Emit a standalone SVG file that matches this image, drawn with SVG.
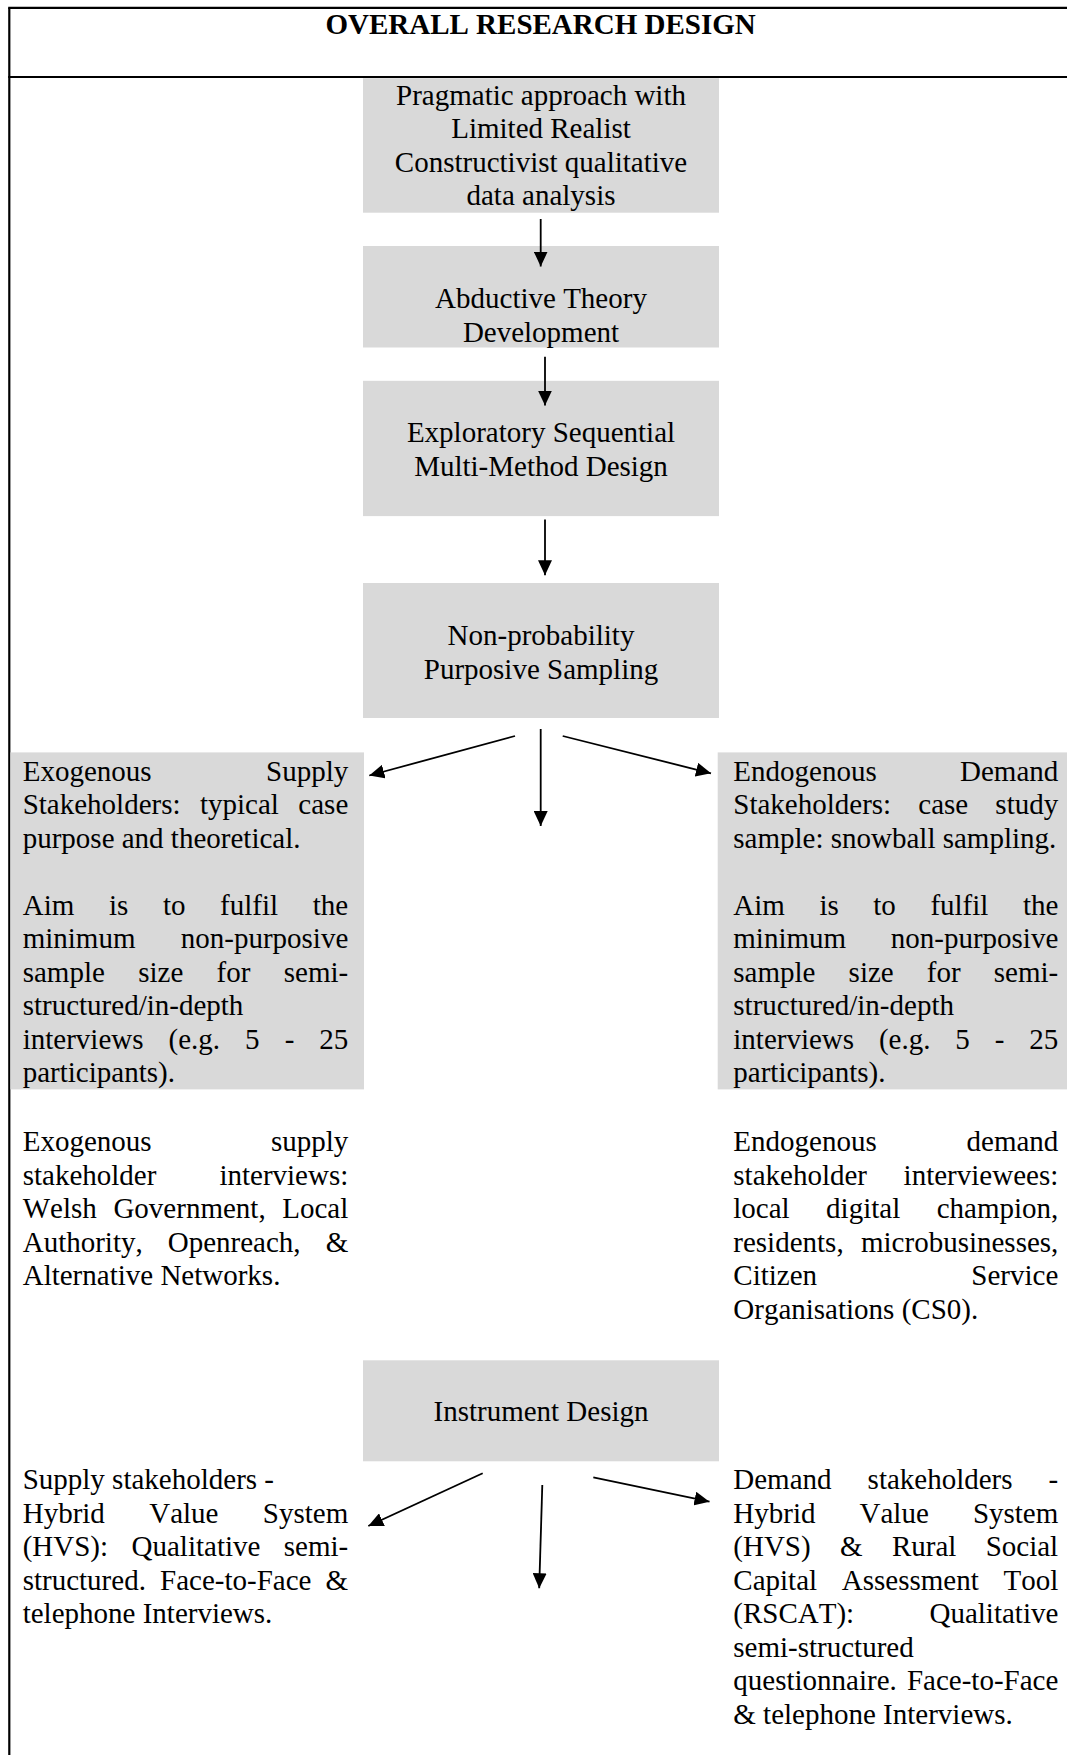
<svg xmlns="http://www.w3.org/2000/svg" width="1067" height="1755" viewBox="0 0 1067 1755">
  <style>
    text { font-family: "Liberation Serif", "Times New Roman", serif; font-size: 29px; fill: #000; font-kerning: none; }
    .title { font-weight: bold; text-anchor: middle; }
    .c { text-anchor: middle; }
    .box { fill: #d9d9d9; }
    .frame { stroke: #000; stroke-width: 2.2; fill: none; }
    .link { stroke: #000; stroke-width: 1.8; fill: none; marker-end: url(#ah); }
  </style>
  <defs>
    <marker id="ah" viewBox="0 0 15 14" refX="15" refY="7" markerWidth="15" markerHeight="14" markerUnits="userSpaceOnUse" orient="auto">
      <path d="M0,0 L15,7 L0,14 z" fill="#000"/>
    </marker>
  </defs>

  <rect width="1067" height="1755" fill="#fff"/>

  <!-- table frame and heading row -->
  <g id="frame">
    <line class="frame" x1="9.3" y1="7.8" x2="9.3" y2="1755"/>
    <line class="frame" x1="8.2" y1="7.8" x2="1067" y2="7.8"/>
    <line class="frame" x1="8.2" y1="77" x2="1067" y2="77"/>
    <text class="title" x="540.6" y="34">OVERALL RESEARCH DESIGN</text>
  </g>

  <g id="philosophy">
    <rect class="box" x="363" y="78.2" width="356" height="134.5"/>
    <text class="c" x="541" y="104.5">Pragmatic approach with</text>
    <text class="c" x="541" y="138">Limited Realist</text>
    <text class="c" x="541" y="171.5">Constructivist qualitative</text>
    <text class="c" x="541" y="205">data analysis</text>
  </g>

  <g id="theory">
    <rect class="box" x="363" y="246" width="356" height="101.5"/>
    <text class="c" x="541" y="308.3">Abductive Theory</text>
    <text class="c" x="541" y="341.8">Development</text>
  </g>

  <g id="method">
    <rect class="box" x="363" y="380.8" width="356" height="135.3"/>
    <text class="c" x="541" y="442">Exploratory Sequential</text>
    <text class="c" x="541" y="475.5">Multi-Method Design</text>
  </g>

  <g id="sampling">
    <rect class="box" x="363" y="583" width="356" height="135"/>
    <text class="c" x="541" y="645">Non-probability</text>
    <text class="c" x="541" y="678.5">Purposive Sampling</text>
  </g>

  <g id="supply-sampling">
    <rect class="box" x="10.4" y="752.4" width="353.6" height="337"/>
    <text x="22.7" y="780.7" word-spacing="107.3">Exogenous Supply</text>
    <text x="22.7" y="814.2" word-spacing="12.2">Stakeholders: typical case</text>
    <text x="22.7" y="847.7">purpose and theoretical.</text>
    <text x="22.7" y="914.7" word-spacing="27.4">Aim is to fulfil the</text>
    <text x="22.7" y="948.2" word-spacing="38">minimum non-purposive</text>
    <text x="22.7" y="981.7" word-spacing="26.1">sample size for semi-</text>
    <text x="22.7" y="1015.2">structured/in-depth</text>
    <text x="22.7" y="1048.7" word-spacing="17.8">interviews (e.g. 5 - 25</text>
    <text x="22.7" y="1082.2">participants).</text>
  </g>

  <g id="demand-sampling">
    <rect class="box" x="717.7" y="752.4" width="349.3" height="337"/>
    <text x="733.3" y="780.7" word-spacing="76.1">Endogenous Demand</text>
    <text x="733.3" y="814.2" word-spacing="19.9">Stakeholders: case study</text>
    <text x="733.3" y="847.7">sample: snowball sampling.</text>
    <text x="733.3" y="914.7" word-spacing="27.3">Aim is to fulfil the</text>
    <text x="733.3" y="948.2" word-spacing="37.4">minimum non-purposive</text>
    <text x="733.3" y="981.7" word-spacing="25.9">sample size for semi-</text>
    <text x="733.3" y="1015.2">structured/in-depth</text>
    <text x="733.3" y="1048.7" word-spacing="17.6">interviews (e.g. 5 - 25</text>
    <text x="733.3" y="1082.2">participants).</text>
  </g>

  <g id="supply-interviews">
    <text x="22.7" y="1151" word-spacing="112.1">Exogenous supply</text>
    <text x="22.7" y="1184.6" word-spacing="55.8">stakeholder interviews:</text>
    <text x="22.7" y="1218.2" word-spacing="9.4">Welsh Government, Local</text>
    <text x="22.7" y="1251.8" word-spacing="17.8">Authority, Openreach, &amp;</text>
    <text x="22.7" y="1285.4">Alternative Networks.</text>
  </g>

  <g id="demand-interviews">
    <text x="733.3" y="1151" word-spacing="82.6">Endogenous demand</text>
    <text x="733.3" y="1184.6" word-spacing="29.4">stakeholder interviewees:</text>
    <text x="733.3" y="1218.2" word-spacing="29.2">local digital champion,</text>
    <text x="733.3" y="1251.8" word-spacing="10.1">residents, microbusinesses,</text>
    <text x="733.3" y="1285.4" word-spacing="147">Citizen Service</text>
    <text x="733.3" y="1319">Organisations (CS0).</text>
  </g>

  <g id="instrument">
    <rect class="box" x="363" y="1360.3" width="356" height="101"/>
    <text class="c" x="541" y="1421">Instrument Design</text>
  </g>

  <g id="supply-instrument">
    <text x="22.7" y="1489.3">Supply stakeholders -</text>
    <text x="22.7" y="1522.8" word-spacing="37.1">Hybrid Value System</text>
    <text x="22.7" y="1556.3" word-spacing="16.2">(HVS): Qualitative semi-</text>
    <text x="22.7" y="1589.8" word-spacing="6.9">structured. Face-to-Face &amp;</text>
    <text x="22.7" y="1623.3">telephone Interviews.</text>
  </g>

  <g id="demand-instrument">
    <text x="733.3" y="1489.3" word-spacing="28.8">Demand stakeholders -</text>
    <text x="733.3" y="1522.8" word-spacing="36.85">Hybrid Value System</text>
    <text x="733.3" y="1556.3" word-spacing="22.1">(HVS) &amp; Rural Social</text>
    <text x="733.3" y="1589.8" word-spacing="17.5">Capital Assessment Tool</text>
    <text x="733.3" y="1623.3" word-spacing="68.1">(RSCAT): Qualitative</text>
    <text x="733.3" y="1656.8">semi-structured</text>
    <text x="733.3" y="1690.3" word-spacing="2.9">questionnaire. Face-to-Face</text>
    <text x="733.3" y="1723.8">&amp; telephone Interviews.</text>
  </g>

  <!-- connectors -->
  <g id="connectors">
    <line class="link" x1="540.7" y1="219" x2="540.7" y2="266.5"/>
    <line class="link" x1="545" y1="356.7" x2="545" y2="405.6"/>
    <line class="link" x1="545" y1="519.6" x2="545" y2="575.3"/>
    <line class="link" x1="515" y1="736" x2="369.3" y2="775.5"/>
    <line class="link" x1="540.7" y1="729" x2="540.7" y2="826"/>
    <line class="link" x1="562.7" y1="736" x2="711" y2="773.3"/>
    <line class="link" x1="482.7" y1="1473.3" x2="368.3" y2="1526"/>
    <line class="link" x1="542.3" y1="1485" x2="539.2" y2="1588.3"/>
    <line class="link" x1="593.3" y1="1477.3" x2="709.5" y2="1501.7"/>
  </g>
</svg>
